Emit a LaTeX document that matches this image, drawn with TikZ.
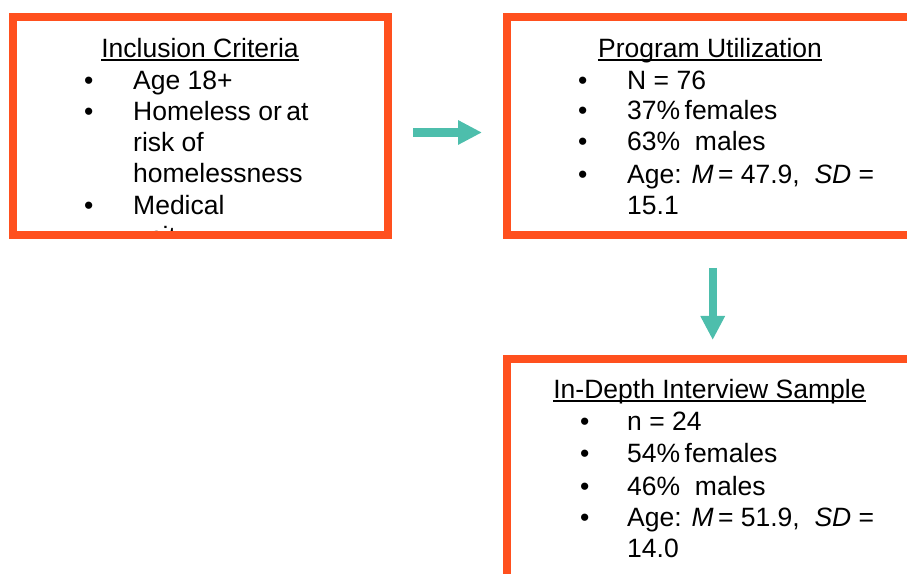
\documentclass[tikz,border=0pt]{standalone}
\usepackage{fontspec}
\setmainfont{Liberation Sans}
\usetikzlibrary{arrows.meta}
\definecolor{frameorange}{RGB}{255,80,30}
\definecolor{arrowteal}{RGB}{77,190,172}

\begin{document}
\begin{tikzpicture}[x=1pt,y=1pt,
  framebox/.style={draw=frameorange, line width=8pt, minimum width=406pt, inner sep=0pt, anchor=north west},
  txt/.style={font=\fontsize{26.5}{31.5}\selectfont, inner sep=0pt, anchor=base west},
  hdr/.style={txt, anchor=base},
  uline/.style={line width=1.4pt},
  flow/.style={draw=arrowteal, line width=9pt, -{Triangle[length=24pt,width=23pt]}}]
  \clip (0,0) rectangle (907,573);

  % Inclusion criteria (text runs past the frame)
  \begin{scope}
    \clip (17,342) rectangle (384,552);
    \node[hdr] (incltitle) at (200,515.7) {Inclusion Criteria};
    \draw[uline] ([yshift=-2.8pt]incltitle.base west) -- ([yshift=-2.8pt]incltitle.base east);
    \node[txt] (inclb1) at (84,483.7) {•};
    \node[txt] (inclage) at (133,483.7) {Age 18+};
    \node[txt] (inclb2) at (84,452.5) {•};
    \node[txt] (inclhome) at (133,452.5) {Homeless or\,at};
    \node[txt] (inclrisk) at (133,421.2) {risk of};
    \node[txt] (inclhomeless) at (133,390) {homelessness};
    \node[txt] (inclb3) at (84,358.7) {•};
    \node[txt] (inclmed) at (133,358.7) {Medical};
    \node[txt] (inclunit) at (133,327.4) {unit};
  \end{scope}
  \node[framebox, minimum width=375pt, minimum height=218pt] (incl) at (9,560) {};

  % Program utilization
  \node[framebox, minimum height=218pt] (util) at (503,560) {};
  \node[hdr] (utiltitle) at (710,515.7) {Program Utilization};
  \draw[uline] ([yshift=-2.8pt]utiltitle.base west) -- ([yshift=-2.8pt]utiltitle.base east);
  \node[txt] (utilb1) at (578,483.7) {•};
  \node[txt] (utiln) at (627,483.7) {N = 76};
  \node[txt] (utilb2) at (578,453.7) {•};
  \node[txt] (utilfem) at (627,453.7) {37\%\,females};
  \node[txt] (utilb3) at (578,422) {•};
  \node[txt] (utilmale) at (627,422) {63\%\ \ males};
  \node[txt] (utilb4) at (578,389.7) {•};
  \node[txt] (utilage) at (627,389.7) {Age: \textit{M}\,= 47.9,\ \ \textit{SD} =};
  \node[txt] (utilsd) at (627,358) {15.1};

  % In-depth interview sample
  \node[framebox, minimum height=260pt] (interview) at (503,218) {};
  \node[hdr] (inttitle) at (709.5,174.7) {In-Depth Interview Sample};
  \draw[uline] ([yshift=-2.8pt]inttitle.base west) -- ([yshift=-2.8pt]inttitle.base east);
  \node[txt] (intb1) at (580,142) {•};
  \node[txt] (intn) at (627,142) {n = 24};
  \node[txt] (intb2) at (580,110.7) {•};
  \node[txt] (intfem) at (627,110.7) {54\%\,females};
  \node[txt] (intb3) at (580,78) {•};
  \node[txt] (intmale) at (627,78) {46\%\ \ males};
  \node[txt] (intb4) at (580,47) {•};
  \node[txt] (intage) at (627,47) {Age: \textit{M}\,= 51.9,\ \ \textit{SD} =};
  \node[txt] (intsd) at (627,15.7) {14.0};

  % Arrows
  \draw[flow, shorten <=21pt, shorten >=21pt] ([yshift=-6.5pt]incl.east) -- ([yshift=-6.5pt]util.west);
  \draw[flow, line width=8pt, shorten <=29pt, shorten >=15pt] ([xshift=2.7pt]util.south) -- ([xshift=2.7pt]interview.north);
\end{tikzpicture}
\end{document}
